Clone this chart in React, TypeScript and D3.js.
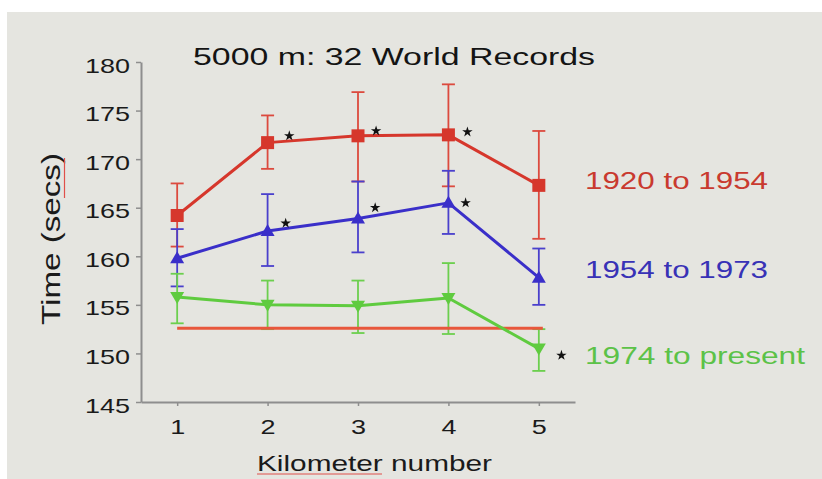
import React, { useRef, useEffect } from 'react';
import * as d3 from 'd3';

const kilometers = [1, 2, 3, 4, 5];
const yTicks = [145, 150, 155, 160, 165, 170, 175, 180];

// 1920 to 1954
const earlyMean = [164.2, 171.7, 172.4, 172.5, 167.3];
const earlyLow = [161.0, 169.0, 167.7, 167.2, 161.8];
const earlyHigh = [167.5, 174.5, 176.9, 177.7, 172.9];

// 1954 to 1973
const middleMean = [159.8, 162.6, 163.9, 165.5, 157.8];
const middleLow = [156.9, 159.0, 160.4, 162.3, 155.0];
const middleHigh = [162.8, 166.4, 167.7, 168.8, 160.8];

// 1974 to present
const lateMean = [155.8, 155.0, 154.9, 155.7, 150.5];
const lateLow = [153.1, 152.5, 152.1, 152.0, 148.2];
const lateHigh = [158.2, 157.5, 157.5, 159.3, 152.5];

const seriesLabels = ['1920 to 1954', '1954 to 1973', '1974 to present'];

// current record pace line
const recordPace = 152.6;

// significance asterisks: [km, time]
const earlyStars = [[2.24, 172.4], [3.2, 172.9], [4.21, 172.8]];
const middleStars = [[2.2, 163.4], [3.19, 165.0], [4.19, 165.5]];
const lateStars = [[5.25, 149.8]];

const FONT = '"Liberation Sans", Arial, Helvetica, sans-serif';

const App: React.FC = () => {
    const svgRef = useRef<SVGSVGElement | null>(null);
    const width = 822;
    const height = 479;

    useEffect(() => {
        if (!svgRef.current) return;
        const svg = d3.select(svgRef.current);
        svg.selectAll('*').remove();

        // Background (slide area with white border top/left)
        svg.append('rect').attr('width', width).attr('height', height).attr('fill', '#ffffff');
        svg.append('rect').attr('x', 7).attr('y', 12).attr('width', width - 7).attr('height', height - 12).attr('fill', '#e5e5e0');

        const x = d3.scaleLinear().domain([0.6, 5.4]).range([141, 575]);
        const y = d3.scaleLinear().domain([145, 180]).range([402, 62]);

        const axisColor = '#8e8e8e';

        // Axes
        const yAxis = svg.append('g')
            .attr('transform', `translate(${x(0.6)},0)`)
            .call(d3.axisLeft(y).tickValues(yTicks).tickSize(5).tickSizeOuter(0).tickPadding(6).tickFormat(d3.format('d')));
        yAxis.select('.domain').attr('stroke', axisColor).attr('stroke-width', 2);
        yAxis.selectAll('line').attr('stroke', axisColor).attr('stroke-width', 1.5);
        yAxis.selectAll('text')
            .attr('fill', '#1a1a1a').attr('font-size', 21).attr('font-family', FONT)
            .attr('dy', '0.48em').attr('textLength', 45).attr('lengthAdjust', 'spacingAndGlyphs');

        const xAxis = svg.append('g')
            .attr('transform', `translate(0,${y(145)})`)
            .call(d3.axisBottom(x).tickValues(kilometers).tickSize(4).tickSizeOuter(0).tickPadding(14).tickFormat(d3.format('d')));
        xAxis.select('.domain').attr('stroke', axisColor).attr('stroke-width', 2);
        xAxis.selectAll('line').attr('stroke', axisColor).attr('stroke-width', 1.5);
        xAxis.selectAll('text')
            .attr('fill', '#1a1a1a').attr('font-size', 20).attr('font-family', FONT)
            .attr('textLength', 15).attr('lengthAdjust', 'spacingAndGlyphs');

        // Title and axis labels
        svg.append('text')
            .attr('x', 193).attr('y', 65)
            .attr('font-size', 23).attr('font-family', FONT).attr('fill', '#141414')
            .attr('textLength', 402).attr('lengthAdjust', 'spacingAndGlyphs')
            .text('5000 m: 32 World Records');

        svg.append('text')
            .attr('x', 257).attr('y', 471)
            .attr('font-size', 22).attr('font-family', FONT).attr('fill', '#1a1a1a')
            .attr('textLength', 235).attr('lengthAdjust', 'spacingAndGlyphs')
            .text('Kilometer number');
        // spell-check underline
        svg.append('line').attr('x1', 257).attr('x2', 382).attr('y1', 474).attr('y2', 474)
            .attr('stroke', '#e0504a').attr('stroke-width', 1.2);

        svg.append('text')
            .attr('transform', 'translate(60,325) rotate(-90)')
            .attr('font-size', 25).attr('font-family', FONT).attr('fill', '#1a1a1a')
            .attr('textLength', 172).attr('lengthAdjust', 'spacingAndGlyphs')
            .text('Time (secs)');
        svg.append('line').attr('x1', 64.5).attr('x2', 64.5).attr('y1', 158).attr('y2', 198)
            .attr('stroke', '#e0504a').attr('stroke-width', 1.2);

        const series = [
            { mean: earlyMean, low: earlyLow, high: earlyHigh, color: '#d6372c', bar: '#dc4a3e', text: '#c93a2f', marker: 'M-6.5,-6.5h13v13h-13z', stars: earlyStars, labelY: 189, labelW: 183 },
            { mean: middleMean, low: middleLow, high: middleHigh, color: '#3a2fc9', bar: '#4a40cc', text: '#3832b6', marker: 'M0,-7L7,5L-7,5Z', stars: middleStars, labelY: 278, labelW: 183 },
            { mean: lateMean, low: lateLow, high: lateHigh, color: '#5fcb3f', bar: '#6ccf4e', text: '#5cc248', marker: 'M0,7L7,-5L-7,-5Z', stars: lateStars, labelY: 364, labelW: 220 },
        ];

        const line = d3.line<number>().x((_, i) => x(kilometers[i])).y(d => y(d));
        const capHalf = 6.5;

        series.forEach((s, si) => {
            const g = svg.append('g');

            // Error bars
            g.selectAll('line.err')
                .data(kilometers)
                .join('line')
                .attr('class', 'err')
                .attr('x1', d => x(d)).attr('x2', d => x(d))
                .attr('y1', (_, i) => y(s.low[i])).attr('y2', (_, i) => y(s.high[i]))
                .attr('stroke', s.bar).attr('stroke-width', 1.8);
            g.selectAll('line.cap-hi')
                .data(kilometers)
                .join('line')
                .attr('class', 'cap-hi')
                .attr('x1', d => x(d) - capHalf).attr('x2', d => x(d) + capHalf)
                .attr('y1', (_, i) => y(s.high[i])).attr('y2', (_, i) => y(s.high[i]))
                .attr('stroke', s.bar).attr('stroke-width', 1.8);
            g.selectAll('line.cap-lo')
                .data(kilometers)
                .join('line')
                .attr('class', 'cap-lo')
                .attr('x1', d => x(d) - capHalf).attr('x2', d => x(d) + capHalf)
                .attr('y1', (_, i) => y(s.low[i])).attr('y2', (_, i) => y(s.low[i]))
                .attr('stroke', s.bar).attr('stroke-width', 1.8);

            // Record pace line sits under the latest series line
            if (si === 2) {
                svg.append('line')
                    .attr('x1', x(1)).attr('x2', x(5) + 4)
                    .attr('y1', y(recordPace)).attr('y2', y(recordPace))
                    .attr('stroke', '#e8573c').attr('stroke-width', 3);
            }

            const g2 = svg.append('g');
            g2.append('path')
                .datum(s.mean)
                .attr('d', line)
                .attr('fill', 'none')
                .attr('stroke', s.color)
                .attr('stroke-width', 3)
                .attr('stroke-linejoin', 'round');

            g2.selectAll('path.marker')
                .data(s.mean)
                .join('path')
                .attr('class', 'marker')
                .attr('transform', (d, i) => `translate(${x(kilometers[i])},${y(d)})`)
                .attr('d', s.marker)
                .attr('fill', s.color);

            // Asterisks
            g2.selectAll('path.star')
                .data(s.stars)
                .join('path')
                .attr('class', 'star')
                .attr('transform', d => `translate(${x(d[0])},${y(d[1])})`)
                .attr('d', d3.symbol(d3.symbolStar).size(34)())
                .attr('fill', '#111');

            // Series label
            svg.append('text')
                .attr('x', 585).attr('y', s.labelY)
                .attr('font-size', 24).attr('font-family', FONT).attr('fill', s.text)
                .attr('textLength', s.labelW).attr('lengthAdjust', 'spacingAndGlyphs')
                .text(seriesLabels[si]);
        });
    }, []);

    return (
        <svg
            ref={svgRef}
            width={width}
            height={height}
            style={{ position: 'absolute', left: 0, top: 0, display: 'block' }}
        ></svg>
    );
};

export default App;
